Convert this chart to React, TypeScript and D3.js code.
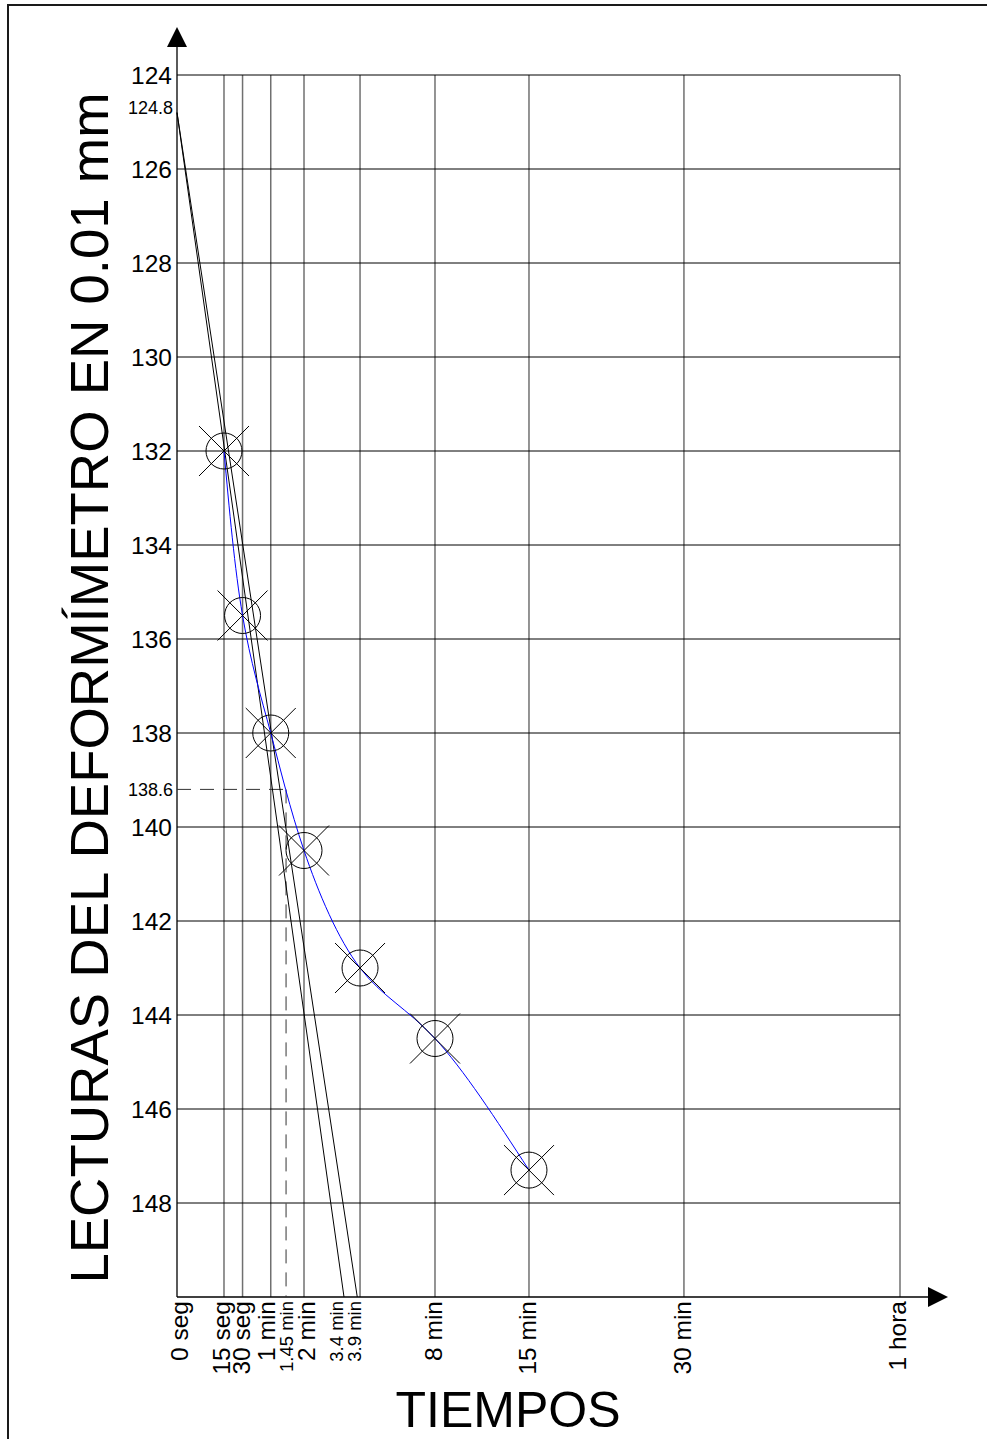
import React from "react";
import * as d3 from "d3";

const W = 987;
const H = 1439;

// Vertical axis: dial readings (0.01 mm)
const yTicks = [124, 126, 128, 130, 132, 134, 136, 138, 140, 142, 144, 146, 148];
const yDomain = [124, 150];

// Horizontal axis: square-root-of-time positions (√s) as drawn on the sheet
const gridTimes = [3.9, 5.44, 7.78, 10.54, 15.19, 21.41, 29.21, 42.07, 60];
const mainLabelText = ["0 seg", "15 seg", "30 seg", "1 min", "2 min", "8 min", "15 min", "30 min", "1 hora"];
const mainLabelPos = [0, 3.9, 5.44, 7.78, 10.54, 21.41, 29.21, 42.07, 60];
const smallLabelText = ["1.45 min", "3.4 min", "3.9 min"];
const smallLabelPos = [9.05, 13.86, 14.96];

// Readings
const readTimes = [3.9, 5.44, 7.78, 10.54, 15.19, 21.41, 29.21];
const readValues = [132, 135.5, 138, 140.5, 143, 144.5, 147.3];

// Taylor construction
const d0Value = 124.8;
const d0Label = "124.8";
const lineEndTimes = [13.86, 14.96];
const t90 = 9.05;
const d90Value = 139.2;
const d90Label = "138.6";

const FONT = "'Liberation Sans', Arial, Helvetica, sans-serif";

// small label nudges (px) so crowded labels sit as on the sheet
const mainLabelDx = [2, -3, -1, -5, 2, -2, -2, -2, -3];
const smallLabelDx = [0, -8, -3];

export default function App() {
  const x = d3.scaleLinear().domain([0, 60]).range([177, 900]);
  const y = d3.scaleLinear().domain(yDomain).range([75, 1297]);
  const x0 = x(0);
  const yBottom = y(yDomain[1]);
  const yTop = y(yDomain[0]);

  const pts: [number, number][] = readTimes.map((t, i) => [x(t), y(readValues[i])]);
  const curve = d3.line().curve(d3.curveNatural)(pts) || "";

  return (
    <svg
      width={W}
      height={H}
      style={{ position: "absolute", left: 0, top: 0, display: "block", background: "#fff" }}
      fontFamily={FONT}
    >
      <rect x={0} y={0} width={W} height={H} fill="#fff" />
      {/* page frame */}
      <rect x={8} y={5} width={1000} height={1500} fill="none" stroke="#1a1a1a" strokeWidth={2} />

      {/* vertical grid */}
      {gridTimes.map((t, i) => (
        <line key={"vg" + i} x1={x(t)} x2={x(t)} y1={yTop} y2={yBottom} stroke="#707070" strokeWidth={1.5} />
      ))}
      {/* horizontal grid */}
      {yTicks.map((v, i) => (
        <line key={"hg" + i} x1={x0} x2={x(60)} y1={y(v)} y2={y(v)} stroke="#000" strokeWidth={1} />
      ))}

      {/* axes */}
      <line x1={x0} x2={x0} y1={40} y2={yBottom} stroke="#000" strokeWidth={1.3} />
      <polygon points={`${x0},27 ${x0 - 10},47 ${x0 + 10},47`} fill="#000" />
      <line x1={x0} x2={930} y1={yBottom} y2={yBottom} stroke="#000" strokeWidth={1.3} />
      <polygon points={`948,${yBottom} 928,${yBottom - 10} 928,${yBottom + 10}`} fill="#000" />

      {/* y tick labels */}
      {yTicks.map((v, i) => (
        <text key={"yl" + i} x={172} y={y(v)} dy="0.36em" textAnchor="end" fontSize={24.5}>
          {v}
        </text>
      ))}
      <text x={173} y={y(d0Value) - 5} dy="0.36em" textAnchor="end" fontSize={18}>
        {d0Label}
      </text>
      <text x={173} y={y(d90Value)} dy="0.36em" textAnchor="end" fontSize={18}>
        {d90Label}
      </text>

      {/* d90 dashed construction */}
      <line x1={x0} x2={x(t90)} y1={y(d90Value)} y2={y(d90Value)} stroke="#333" strokeWidth={1} strokeDasharray="14,9" />
      <line x1={x(t90)} x2={x(t90)} y1={y(d90Value)} y2={yBottom} stroke="#333" strokeWidth={1} strokeDasharray="14,9" />

      {/* tangent lines */}
      {lineEndTimes.map((t, i) => (
        <line key={"tl" + i} x1={x0} y1={y(d0Value)} x2={x(t)} y2={yBottom} stroke="#000" strokeWidth={1} />
      ))}

      {/* consolidation curve */}
      <path d={curve} fill="none" stroke="#0000ff" strokeWidth={1} />

      {/* markers */}
      {pts.map(([px, py], i) => (
        <g key={"m" + i} stroke="#000" strokeWidth={1} fill="none">
          <circle cx={px} cy={py} r={18} />
          <line x1={px - 25} y1={py - 25} x2={px + 25} y2={py + 25} />
          <line x1={px - 25} y1={py + 25} x2={px + 25} y2={py - 25} />
        </g>
      ))}

      {/* x labels */}
      {mainLabelText.map((s, i) => (
        <text
          key={"xl" + i}
          transform={`translate(${x(mainLabelPos[i]) + mainLabelDx[i]},${yBottom + 4}) rotate(-90)`}
          dy="0.36em"
          textAnchor="end"
          fontSize={24.5}
        >
          {s}
        </text>
      ))}
      {smallLabelText.map((s, i) => (
        <text
          key={"xs" + i}
          transform={`translate(${x(smallLabelPos[i]) + smallLabelDx[i]},${yBottom + 4}) rotate(-90)`}
          dy="0.36em"
          textAnchor="end"
          fontSize={18.5}
        >
          {s}
        </text>
      ))}

      {/* titles */}
      <text transform={`translate(108,688) rotate(-90)`} textAnchor="middle" fontSize={54.5}>
        LECTURAS DEL DEFORMÍMETRO EN 0.01 mm
      </text>
      <text x={508} y={1427} textAnchor="middle" fontSize={50}>
        TIEMPOS
      </text>
    </svg>
  );
}
